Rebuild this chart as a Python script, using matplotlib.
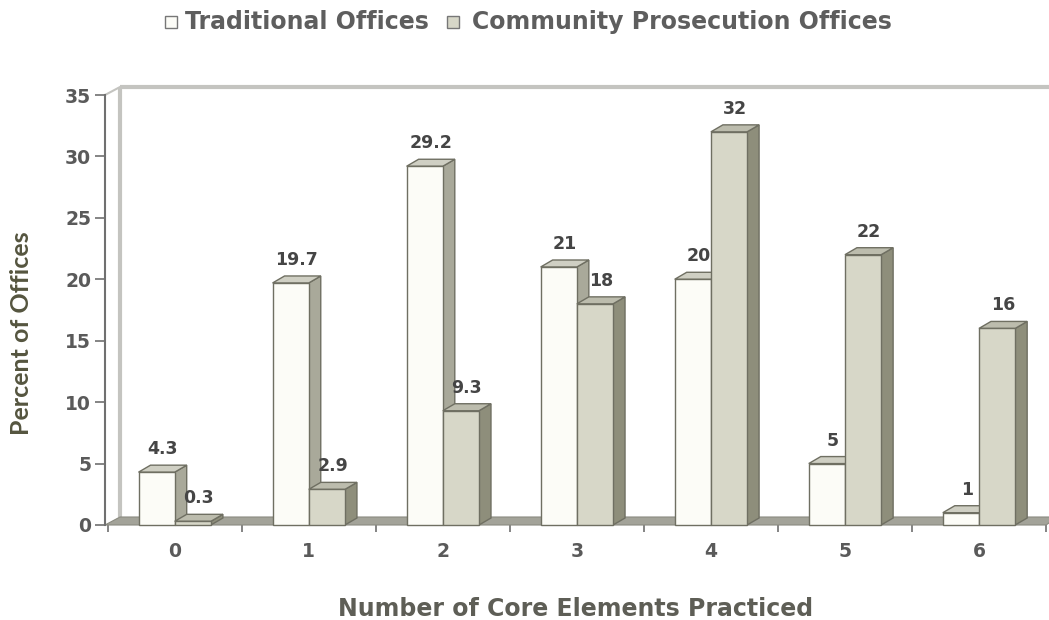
import matplotlib
matplotlib.use("Agg")
import matplotlib.pyplot as plt
from matplotlib.patches import Polygon, Rectangle
import numpy as np

categories = ["0", "1", "2", "3", "4", "5", "6"]
traditional = [4.3, 19.7, 29.2, 21, 20, 5, 1]
community = [0.3, 2.9, 9.3, 18, 32, 22, 16]
traditional_labels = ["4.3", "19.7", "29.2", "21", "20", "5", "1"]
community_labels = ["0.3", "2.9", "9.3", "18", "32", "22", "16"]
series_names = ["Traditional Offices", "Community Prosecution Offices"]
y_ticks = [0, 5, 10, 15, 20, 25, 30, 35]

W, H = 1049, 620
fig = plt.figure(figsize=(W / 100, H / 100), dpi=100)
fig.patch.set_facecolor("white")

# axes box in pixel terms
left_px, right_px = 105, 1046
top_px, bottom_px = 95, 525
ax = fig.add_axes([left_px / W, 1 - bottom_px / H,
                   (right_px - left_px) / W, (bottom_px - top_px) / H])
xmin, xmax = -0.52, 6.5
ymin, ymax = 0, 35
ax.set_xlim(xmin, xmax)
ax.set_ylim(ymin, ymax)
ax.set_facecolor("none")

px_x = (xmax - xmin) / (right_px - left_px)
px_y = (ymax - ymin) / (bottom_px - top_px)

# depth of bars and of the back wall (pseudo-3D)
bdx, bdy = 12 * px_x, 7 * px_y
wdx, wdy = 15 * px_x, 8 * px_y

edge = "#6f6f62"
styles = [
    dict(front="#fcfcf7", top="#cfcfc3", side="#a9a99a"),
    dict(front="#d7d7c8", top="#bcbcad", side="#8e8e7b"),
]
FONT = "DejaVu Sans"

# back wall frame
frame_col = "#c4c4c0"
ax.plot([xmin + wdx, xmin + wdx], [wdy, ymax + wdy], color=frame_col, lw=3,
        clip_on=False, zorder=1, solid_capstyle="butt")
ax.plot([xmin + wdx, xmax + 0.1], [ymax + wdy, ymax + wdy], color=frame_col,
        lw=3, clip_on=False, zorder=1, solid_capstyle="butt")
ax.plot([xmin, xmin + wdx], [ymax, ymax + wdy], color=frame_col, lw=1.5,
        clip_on=False, zorder=1)

# floor
floor = Polygon([(xmin, 0), (xmax, 0), (xmax + wdx * 0.3, wdy * 0.3 + 0.05),
                 (xmax + wdx * 0.3, wdy), (xmin + wdx, wdy)],
                closed=True, facecolor="#a3a399", edgecolor="#8a8a80",
                lw=0.8, clip_on=False, zorder=2)
ax.add_patch(floor)

width = 0.27
x = np.arange(len(categories))
offsets = [-width / 2, width / 2]


def draw_bar(xc, h, st, z):
    x0, x1 = xc - width / 2, xc + width / 2
    side = Polygon([(x1, 0), (x1 + bdx, bdy), (x1 + bdx, h + bdy), (x1, h)],
                   closed=True, facecolor=st["side"], edgecolor=edge, lw=1.0,
                   zorder=z, clip_on=False)
    top = Polygon([(x0, h), (x0 + bdx, h + bdy), (x1 + bdx, h + bdy), (x1, h)],
                  closed=True, facecolor=st["top"], edgecolor=edge, lw=1.0,
                  zorder=z, clip_on=False)
    ax.add_patch(side)
    ax.add_patch(top)


for s, (vals, labs) in enumerate([(traditional, traditional_labels),
                                  (community, community_labels)]):
    st = styles[s]
    xs = x + offsets[s]
    z = 3 + s
    for xc, h in zip(xs, vals):
        draw_bar(xc, h, st, z)
    ax.bar(xs, vals, width=width, color=st["front"], edgecolor=edge,
           linewidth=1.0, zorder=z + 0.5, clip_on=False)
    for xc, h, lab in zip(xs, vals, labs):
        ax.annotate(lab, (xc + bdx / 2, h + bdy), xytext=(0, 5),
                    textcoords="offset points", ha="center", va="bottom",
                    fontsize=12.5, color="#454545", family=FONT,
                    fontweight="bold", zorder=10)

# axes styling
for sp in ["top", "right", "bottom"]:
    ax.spines[sp].set_visible(False)
ax.spines["left"].set_color("#707070")
ax.spines["left"].set_linewidth(1.5)
ax.set_yticks(y_ticks)
ax.tick_params(axis="y", direction="out", length=7, width=1.2,
               color="#707070", labelsize=13.5, labelcolor="#5a5a5a", pad=3)
for t in ax.get_yticklabels():
    t.set_family(FONT)
    t.set_fontweight("bold")

ax.set_xticks(x)
ax.set_xticklabels(categories)
ax.tick_params(axis="x", which="major", length=0, labelsize=13.5,
               labelcolor="#5a5a5a", pad=12)
for t in ax.get_xticklabels():
    t.set_family(FONT)
    t.set_fontweight("bold")
ax.set_xticks(np.arange(len(categories) + 1) - 0.5, minor=True)
ax.tick_params(axis="x", which="minor", direction="out", length=5, width=1.2,
               color="#707070", pad=0)

ax.set_xlabel("Number of Core Elements Practiced", fontsize=17,
              color="#5e5e56", family=FONT, fontweight="bold", labelpad=26)
ax.set_ylabel("Percent of Offices", fontsize=18, color="#55553f",
              family="Lato", fontweight="bold")
ax.yaxis.set_label_coords((33 - left_px) / (right_px - left_px),
                          (bottom_px - 333) / (bottom_px - top_px))

# legend across the top
leg_y = 1 - 22 / H
fig.patches.append(Rectangle((165 / W, leg_y - 6 / H), 12 / W, 12 / H,
                             transform=fig.transFigure, facecolor=styles[0]["front"],
                             edgecolor="#777777", lw=1.0))
fig.text(185 / W, leg_y, series_names[0], ha="left", va="center", fontsize=17,
         color="#5e5e5e", family=FONT, fontweight="bold")
fig.patches.append(Rectangle((447 / W, leg_y - 6 / H), 12 / W, 12 / H,
                             transform=fig.transFigure, facecolor=styles[1]["front"],
                             edgecolor="#777777", lw=1.0))
fig.text(472 / W, leg_y, series_names[1], ha="left", va="center", fontsize=17,
         color="#5e5e5e", family=FONT, fontweight="bold")

fig.savefig("out.png", dpi=100, facecolor="white")
